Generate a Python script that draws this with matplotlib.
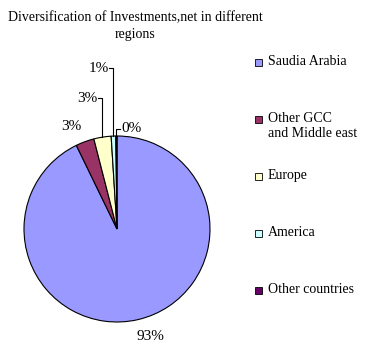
import numpy as np
import matplotlib
matplotlib.use("Agg")
import matplotlib.pyplot as plt
from matplotlib.patches import Rectangle

plt.rcParams['font.family'] = ['Liberation Serif', 'DejaVu Serif']

regions = ["Saudia Arabia", "Other GCC\nand Middle east", "Europe", "America", "Other countries"]
shares = [92.8, 3.2, 3.0, 0.8, 0.2]
colors = ["#9999FF", "#993366", "#FFFFCC", "#CCFFFF", "#660066"]
title = "Diversification of Investments,net in different\nregions"

W, H = 371, 357
fig = plt.figure(figsize=(W / 100, H / 100), dpi=100)
ax = fig.add_axes([0, 0, 1, 1])

cx, cy, R = 117, H - 229, 93
wedges, _ = ax.pie(shares, colors=colors, startangle=90, counterclock=False,
                   center=(cx, cy), radius=R, frame=True,
                   wedgeprops=dict(edgecolor="black", linewidth=0.8))
ax.set_xlim(0, W)
ax.set_ylim(0, H)
ax.set_aspect("equal")
ax.axis("off")

# label placement: (dx, dy) from pie centre, leader line on/off
label_pos = [(33, -107, False), (-46, 102, False), (-19, 131, True), (-19, 161, True), (18, 100, True)]
for w, val, (tx, ty, leader) in zip(wedges, shares, label_pos):
    txt = f"{val:.0f}%"
    if not leader:
        ax.text(cx + tx, cy + ty, txt, ha="center", va="center", fontsize=11)
        continue
    ang = np.deg2rad((w.theta1 + w.theta2) / 2)
    ex, ey = cx + R * np.cos(ang), cy + R * np.sin(ang)
    ly = cy + ty
    side = -1 if tx < 0 else 1
    ax.plot([ex, ex, ex + 4 * side], [ey, ly, ly], color="black", lw=0.8)
    ax.text(ex + 5 * side, ly, txt, ha="right" if side < 0 else "left",
            va="center", fontsize=11)

fig.text(135 / W, 1 - 26 / H, title, ha="center", va="center", fontsize=10,
         linespacing=1.35)

# legend, drawn by hand so the rows keep an even pitch
for i, (name, col) in enumerate(zip(regions, colors)):
    y = H - 62 - 57 * i
    ax.add_patch(Rectangle((255, y - 3.5), 7, 7, facecolor=col, edgecolor="black", lw=0.6))
    ax.text(268, y + 7, name, ha="left", va="top", fontsize=10, linespacing=1.2)

fig.savefig("out.png", dpi=100)
